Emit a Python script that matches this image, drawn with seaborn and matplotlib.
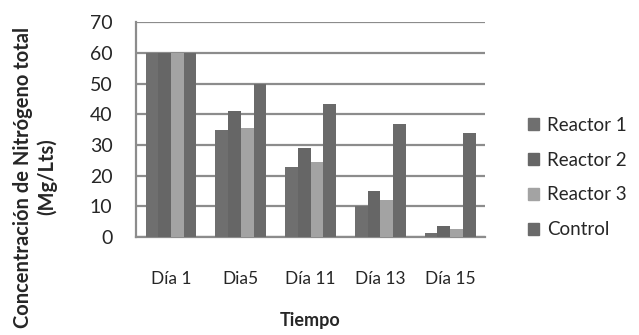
import pandas as pd
import numpy as np
import matplotlib.pyplot as plt
import seaborn as sns

sns.set_style("white")
plt.rcParams['font.family'] = ['Lato', 'DejaVu Sans']

dias = ['Día 1', 'Dia5', 'Día 11', 'Día 13', 'Día 15']
series = ['Reactor 1', 'Reactor 2', 'Reactor 3', 'Control']
reactor1 = [60, 35, 23, 10, 1.5]
reactor2 = [60, 41, 29, 15, 3.5]
reactor3 = [60, 35.5, 24.5, 12, 2.5]
control = [60, 50, 43.5, 37, 34]
colores = ['#6f6f6f', '#666666', '#a3a3a3', '#6a6a6a']

df = pd.DataFrame({'dia': dias * 4,
                   'serie': np.repeat(series, len(dias)),
                   'valor': reactor1 + reactor2 + reactor3 + control})

fig = plt.figure(figsize=(6.39, 3.35), dpi=100)
ax = fig.add_axes([0.213, 0.292, 0.546, 0.642])

sns.barplot(data=df, x='dia', y='valor', hue='serie', order=dias, hue_order=series,
            palette=colores, width=0.73, gap=0, saturation=1, linewidth=0,
            ax=ax, zorder=3)

ax.set_ylim(0, 70)
ax.set_yticks(range(0, 71, 10))
ax.set_xlim(-0.5, 4.5)
ax.yaxis.grid(True, color='#8c8c8c', linewidth=1.6, zorder=0)
ax.set_axisbelow(True)
for s in ['top', 'right']:
    ax.spines[s].set_visible(False)
for s in ['left', 'bottom']:
    ax.spines[s].set_color('#8c8c8c')
    ax.spines[s].set_linewidth(1.6)

ax.tick_params(axis='y', length=7, width=1.6, color='#8c8c8c', labelsize=14, pad=10)
ax.tick_params(axis='x', which='major', length=0, labelsize=12.5, pad=24)
ax.set_xticks(np.arange(-0.5, 4.6, 1), minor=True)
ax.tick_params(axis='x', which='minor', length=6, width=1.6, color='#8c8c8c', direction='out')

ax.set_xlabel('Tiempo', fontsize=13, fontweight='bold', labelpad=18)
ax.set_ylabel('Concentración de Nitrógeno total\n(Mg/Lts)', fontsize=14.5,
              fontweight='bold', linespacing=1.2)
ax.yaxis.set_label_coords(-0.226, 0.28)

ax.get_legend().remove()
handles = [plt.Rectangle((0, 0), 1, 1, color=c) for c in colores]
fig.legend(handles, series, loc='center left', bbox_to_anchor=(0.8, 0.47),
           frameon=False, fontsize=13.5, handlelength=0.6, handleheight=0.6,
           labelspacing=0.95, handletextpad=0.4)

plt.savefig('out.png', dpi=100)
